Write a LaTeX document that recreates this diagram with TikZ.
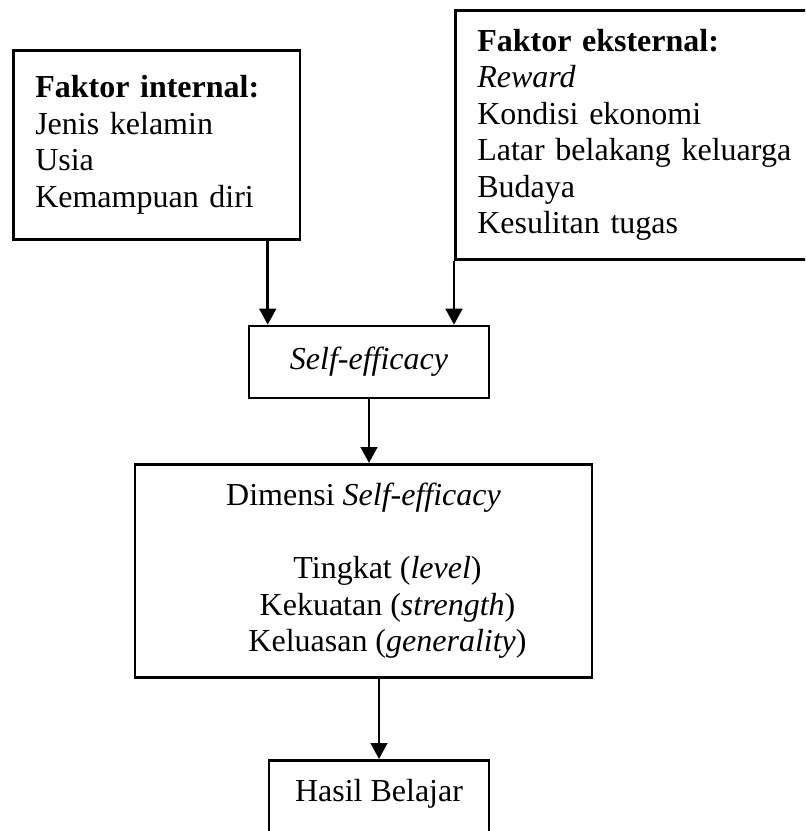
\documentclass[tikz,border=0pt]{standalone}
\usepackage{fontspec}
\setmainfont{Liberation Serif}
\usetikzlibrary{arrows.meta,positioning}
\tikzset{
  box/.style={draw, rectangle, line width=0.95pt, inner sep=0pt,
    font=\fontsize{12pt}{13.7pt}\selectfont},
  arr/.style={-{Triangle[width=6.2pt,length=6pt]}, line width=1.1pt}
}
\begin{document}
\begin{tikzpicture}[x=0.375pt,y=-0.375pt]
    \useasboundingbox (0,0) rectangle (805,831);
    \clip (0,0) rectangle (805,831);
    % faktor
    \node [box, anchor=north west, minimum width=107.6pt, minimum height=70.9pt,
      inner xsep=8.25pt, text width=91.1pt, align=left] (intern) at (12,49)
      {\textbf{Faktor internal:}\\Jenis kelamin\\Usia\\Kemampuan diri};
    \node [box, anchor=north west, minimum width=141pt, minimum height=93.4pt,
      inner xsep=8.25pt, text width=124.5pt, align=left] (ekstern) at (454,9)
      {\textbf{Faktor eksternal:}\\\textit{Reward}\\Kondisi ekonomi\\Latar belakang keluarga\\Budaya\\Kesulitan tugas};
    % tengah
    \node [box, minimum width=90pt, minimum height=27pt] (self) at (369,362)
      {\textit{Self-efficacy}};
    \node [box, anchor=north, minimum width=171.4pt, minimum height=79.9pt, align=center] (dimensi) at (363.5,463)
      {Dimensi \textit{Self-efficacy}\\[13.7pt]
       \hspace*{18pt}Tingkat (\textit{level})\\
       \hspace*{18pt}Kekuatan (\textit{strength})\\
       \hspace*{18pt}Keluasan (\textit{generality})};
    \node [box, anchor=north, minimum width=82.5pt, minimum height=40pt, inner ysep=7pt,
      text depth=20pt] (hasil) at (379,759) {Hasil Belajar};
    % panah
    \draw [arr] ([xshift=7.5pt]self.north west |- intern.south) -- ([xshift=7.5pt]self.north west);
    \draw [arr] (ekstern.south west) -- (ekstern.south west |- self.north);
    \draw [arr] (self.south) -- (self.south |- dimensi.north);
    \draw [arr] (hasil.north |- dimensi.south) -- (hasil.north);
\end{tikzpicture}
\end{document}
